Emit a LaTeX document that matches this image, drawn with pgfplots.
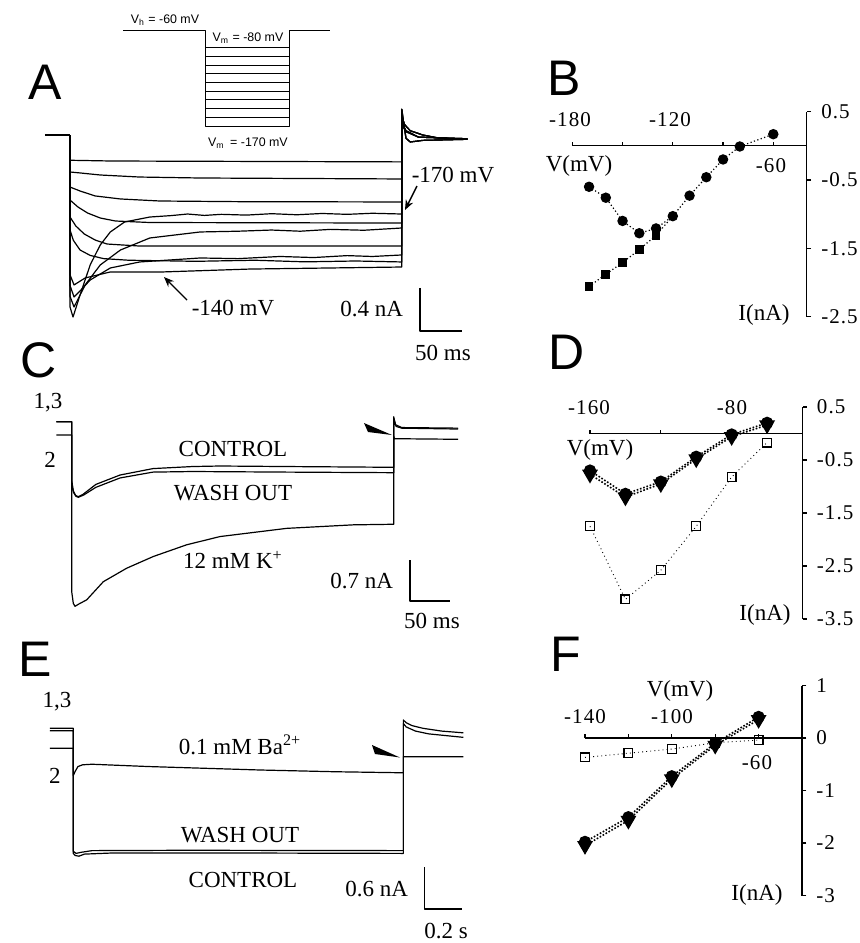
\documentclass[border=0pt]{standalone}
\usepackage{fontspec}
\setmainfont{Liberation Serif}
\newfontfamily\lsans{Liberation Sans}
\newfontfamily\wideserif[LetterSpace=5]{Liberation Serif}
\usepackage{pgfplots}
\pgfplotsset{compat=1.18}
\usetikzlibrary{arrows.meta}

\newcommand\lab{\fontsize{11.5}{13}\selectfont}
\newcommand\tk{\wideserif\fontsize{10.5}{12}\selectfont}
\newcommand\pl{\lsans\fontsize{25}{28}\selectfont}
\newcommand\pr{\lsans\fontsize{6.2}{7}\selectfont}

\pgfplotsset{
  trace/.style={hide axis, scale only axis, clip=false, anchor=north west},
  tr/.style={no marks, black, line width=0.6pt, line join=round},
  iv/.style={scale only axis, clip=false, anchor=north west,
    axis x line=middle, axis y line=right, axis line style={-, line width=0.6pt},
    xtick=\empty, ytick align=outside, major tick length=2.2pt,
    tick style={line width=0.6pt, black},
    yticklabel style={font=\tk, anchor=west, xshift=1.5pt}},
  dfill/.style={black, line width=0.8pt, dash pattern=on 0.8pt off 0.9pt},
  dopen/.style={black, line width=0.45pt, dash pattern=on 0.45pt off 1.6pt},
}

\begin{document}
\begin{tikzpicture}
\fill[white] (0,0) rectangle (430pt,-471.5pt);
\path[use as bounding box] (0,0) rectangle (430pt,-471.5pt);

% ---------- A: pulse protocol
\begin{axis}[trace, at={(61pt,-12.975pt)}, width=105pt, height=52.2pt,
  xmin=-400, xmax=600, ymin=-175, ymax=-55]
\addplot[tr, line width=0.5pt] coordinates {(-393,-60) (0,-60) (0,-170) (400,-170) (400,-60) (590,-60)};
\addplot[tr, line width=0.5pt] coordinates {(0,-80) (400,-80)};
\addplot[tr, line width=0.5pt] coordinates {(0,-90) (400,-90)};
\addplot[tr, line width=0.5pt] coordinates {(0,-100) (400,-100)};
\addplot[tr, line width=0.5pt] coordinates {(0,-110) (400,-110)};
\addplot[tr, line width=0.5pt] coordinates {(0,-120) (400,-120)};
\addplot[tr, line width=0.5pt] coordinates {(0,-130) (400,-130)};
\addplot[tr, line width=0.5pt] coordinates {(0,-140) (400,-140)};
\addplot[tr, line width=0.5pt] coordinates {(0,-150) (400,-150)};
\addplot[tr, line width=0.5pt] coordinates {(0,-160) (400,-160)};
\end{axis}

% ---------- A: current traces (ms, nA)
\begin{axis}[trace, at={(18.2pt,-46pt)}, width=218.4pt, height=129pt,
  xmin=-40, xmax=480, ymin=-2.0, ymax=0.4]
\addplot[tr] coordinates {(-30,0) (0,0)};
% -80
\addplot[tr] coordinates {(0,0) (0,-0.235) (50,-0.242) (395,-0.25) (395,0.10) (400,0.03) (415,-0.02) (473,-0.035)};
% -90
\addplot[tr] coordinates {(0,0) (0,-0.344) (12,-0.353) (36,-0.372) (83,-0.391) (155,-0.40) (395,-0.409) (395,0.10) (400,0.03) (415,-0.02) (473,-0.035)};
% -100
\addplot[tr] coordinates {(0,0) (0,-0.484) (12,-0.521) (30,-0.567) (60,-0.595) (107,-0.614) (200,-0.62) (395,-0.623) (395,0.12) (400,0.04) (415,-0.02) (473,-0.035)};
% -110
\addplot[tr] coordinates {(0,0) (0,-0.605) (9.5,-0.67) (21,-0.726) (36,-0.772) (54,-0.80) (95,-0.814) (395,-0.819) (395,0.12) (400,0.04) (415,-0.02) (473,-0.035)};
% -120
\addplot[tr] coordinates {(0,0) (0,-0.763) (7,-0.847) (17,-0.921) (30,-0.977) (44,-1.014) (83,-1.033) (395,-1.033) (395,0.18) (398,0.1) (405,0.04) (420,0.0) (440,-0.03) (473,-0.04)};
% -130
\addplot[tr] coordinates {(0,0) (0,-0.884) (4,-0.98) (12,-1.07) (24,-1.12) (40,-1.15) (70,-1.165) (150,-1.175) (220,-1.165) (280,-1.18) (340,-1.172) (395,-1.181) (395,0.18) (398,0.1) (405,0.04) (420,0.0) (440,-0.03) (473,-0.04)};
% -140
\addplot[tr] coordinates {(0,0) (0,-1.30) (4.8,-1.395) (18,-1.33) (48,-1.274) (110,-1.274) (214,-1.247) (395,-1.228) (395,0.18) (398,0.1) (405,0.04) (420,0.0) (440,-0.03) (473,-0.04)};
% -150
\addplot[tr] coordinates {(0,0) (0,-1.40) (4.8,-1.507) (12,-1.45) (24,-1.349) (48,-1.237) (83,-1.181) (155,-1.144) (200,-1.15) (250,-1.13) (290,-1.14) (330,-1.122) (360,-1.13) (395,-1.116) (395,0.24) (397,0.12) (400,-0.03) (405,-0.065) (420,-0.05) (473,-0.04)};
% -160
\addplot[tr] coordinates {(0,0) (0,-1.50) (4.8,-1.60) (18,-1.395) (36,-1.209) (60,-1.07) (95,-0.958) (155,-0.902) (200,-0.895) (240,-0.884) (274,-0.895) (310,-0.878) (350,-0.886) (395,-0.865) (395,0.24) (397,0.12) (400,-0.03) (405,-0.065) (420,-0.05) (473,-0.04)};
% -170
\addplot[tr] coordinates {(0,0) (0,-1.60) (3.6,-1.693) (12,-1.488) (24,-1.209) (36,-1.023) (48,-0.902) (65,-0.809) (95,-0.763) (120,-0.75) (140,-0.735) (160,-0.748) (180,-0.738) (210,-0.745) (240,-0.732) (270,-0.742) (300,-0.73) (330,-0.738) (360,-0.728) (395,-0.735) (395,0.24) (397,0.12) (400,-0.03) (405,-0.065) (420,-0.05) (473,-0.04)};
% scale bar 0.4 nA, 50 ms
\addplot[tr] coordinates {(416.7,-1.423) (416.7,-1.823) (466.7,-1.823)};
\end{axis}

% ---------- C: traces (ms, nA)
\begin{axis}[trace, at={(25.79pt,-202.06pt)}, width=207.29pt, height=111.34pt,
  xmin=-25, xmax=490, ymin=-3.5, ymax=0.3]
% 1 control
\addplot[tr] coordinates {(-19,0) (0,0) (0,-1.0) (2,-1.18) (5,-1.26) (8.2,-1.28) (14,-1.24) (30,-1.07) (60,-0.91) (101,-0.80) (150,-0.765) (184,-0.756) (267,-0.765) (400,-0.778) (400,0.085) (402,-0.05) (410,-0.1) (480,-0.11)};
% 3 wash out
\addplot[tr] coordinates {(-19,0) (0,0) (0,-1.05) (2,-1.2) (5,-1.27) (8.2,-1.29) (15,-1.25) (30,-1.12) (60,-0.96) (101,-0.86) (150,-0.85) (267,-0.86) (400,-0.87) (400,0.06) (403,-0.08) (410,-0.11) (480,-0.125)};
% 2 12 mM K+
\addplot[tr] coordinates {(-19,-0.227) (0,-0.227) (0,-2.9) (2,-3.10) (4.1,-3.15) (9,-3.11) (18.6,-3.04) (39.3,-2.73) (68.3,-2.50) (101.4,-2.30) (142.9,-2.10) (184.2,-1.96) (267,-1.82) (349.8,-1.76) (400,-1.75) (400,-0.25) (401,-0.29) (480,-0.30)};
% scale bar 0.7 nA, 50 ms
\addplot[tr] coordinates {(420.2,-2.36) (420.2,-3.06) (470.2,-3.06)};
\end{axis}

% ---------- E: traces (s, nA)
\begin{axis}[trace, at={(22.625pt,-353.725pt)}, width=215.05pt, height=107.725pt,
  xmin=-0.15, xmax=2.15, ymin=-2.8, ymax=0.3]
% 1 control
\addplot[tr] coordinates {(-0.125,0) (0,0) (0,-1.80) (0.01,-1.83) (0.03,-1.84) (0.06,-1.81) (0.2,-1.795) (1.0,-1.795) (1.765,-1.80) (1.765,0.12) (1.78,0.08) (1.81,0.04) (1.87,0.0) (1.97,-0.04) (2.086,-0.065)};
% 3 wash out
\addplot[tr] coordinates {(-0.125,-0.035) (0,-0.035) (0,-1.77) (0.015,-1.80) (0.04,-1.785) (0.1,-1.76) (0.6,-1.755) (1.765,-1.76) (1.765,0.07) (1.78,0.02) (1.83,-0.04) (1.9,-0.08) (2.086,-0.13)};
% 2 0.1 mM Ba2+
\addplot[tr] coordinates {(-0.125,-0.288) (0,-0.288) (0,-0.68) (0.01,-0.62) (0.025,-0.55) (0.05,-0.525) (0.1,-0.517) (0.4,-0.55) (1.0,-0.6) (1.4,-0.625) (1.765,-0.64) (1.765,-0.409) (2.086,-0.409)};
% scale bar 0.6 nA, 0.2 s
\addplot[tr] coordinates {(1.877,-2.0) (1.877,-2.6) (2.077,-2.6)};
\end{axis}

% ---------- B: I-V
\begin{axis}[iv, at={(286.15pt,-55.825pt)}, width=117.25pt, height=102.45pt,
  xmin=-180, xmax=-40, ymin=-2.5, ymax=0.5,
  ytick={0.5,-0.5,-1.5,-2.5}, yticklabels={0.5,-0.5,-1.5,-2.5}]
\addplot[black, line width=0.6pt, dash pattern=on 0.6pt off 1.2pt, mark=square*, mark size=1.9pt, mark options={solid}, mark indices={1,2,3,4,5}]
  coordinates {(-170,-2.06) (-160,-1.88) (-150,-1.71) (-140,-1.52) (-130,-1.31) (-120,-1.03)};
\addplot[black, line width=0.6pt, dash pattern=on 0.6pt off 1.2pt, mark=*, mark size=2.3pt, mark options={solid}]
  coordinates {(-170,-0.60) (-160,-0.76) (-150,-1.10) (-140,-1.28) (-130,-1.21) (-120,-1.03) (-110,-0.73) (-100,-0.46) (-90,-0.20) (-80,-0.01) (-60,0.17)};
\draw[line width=0.6pt] (axis cs:-180,0) -- ([yshift=2pt]axis cs:-180,0);
\draw[line width=0.6pt] (axis cs:-150,0) -- ([yshift=2pt]axis cs:-150,0);
\draw[line width=0.6pt] (axis cs:-120,0) -- ([yshift=2pt]axis cs:-120,0);
\draw[line width=0.6pt] (axis cs:-90,0) -- ([yshift=2pt]axis cs:-90,0);
\draw[line width=0.6pt] (axis cs:-60,0) -- ([yshift=2pt]axis cs:-60,0);
\end{axis}

% ---------- D: I-V
\begin{axis}[iv, at={(295pt,-203.5pt)}, width=106.25pt, height=106pt,
  xmin=-160, xmax=-40, ymin=-3.5, ymax=0.5,
  ytick={0.5,-0.5,-1.5,-2.5,-3.5}, yticklabels={0.5,-0.5,-1.5,-2.5,-3.5}]
\addplot[dopen, mark=square, mark size=2.2pt, mark options={solid, fill=white, line width=0.6pt}]
  coordinates {(-160,-1.75) (-140,-3.13) (-120,-2.58) (-100,-1.75) (-80,-0.82) (-60,-0.17)};
\addplot[dfill, mark=*, mark size=2.7pt, mark options={solid}]
  coordinates {(-160,-0.70) (-140,-1.14) (-120,-0.91) (-100,-0.44) (-80,-0.02) (-60,0.20)};
\addplot[dfill, mark=triangle*, mark size=3.8pt, mark options={solid, rotate=180}]
  coordinates {(-160,-0.77) (-140,-1.20) (-120,-0.95) (-100,-0.48) (-80,-0.06) (-60,0.16)};
\draw[line width=0.6pt] (axis cs:-160,0) -- ([yshift=2pt]axis cs:-160,0);
\draw[line width=0.6pt] (axis cs:-120,0) -- ([yshift=2pt]axis cs:-120,0);
\draw[line width=0.6pt] (axis cs:-80,0) -- ([yshift=2pt]axis cs:-80,0);
\end{axis}

% ---------- F: I-V
\begin{axis}[iv, at={(292.5pt,-342.75pt)}, width=108.5pt, height=105pt,
  xmin=-140, xmax=-40, ymin=-3, ymax=1,
  ytick={1,0,-1,-2,-3}, yticklabels={1,0,-1,-2,-3}]
\addplot[dopen, mark=square, mark size=2.2pt, mark options={solid, fill=white, line width=0.6pt}]
  coordinates {(-140,-0.37) (-120,-0.29) (-100,-0.21) (-80,-0.09) (-60,-0.04)};
\addplot[dfill, mark=*, mark size=2.7pt, mark options={solid}]
  coordinates {(-140,-1.98) (-120,-1.51) (-100,-0.73) (-80,-0.10) (-60,0.40)};
\addplot[dfill, mark=triangle*, mark size=3.8pt, mark options={solid, rotate=180}]
  coordinates {(-140,-2.05) (-120,-1.57) (-100,-0.78) (-80,-0.14) (-60,0.35)};
\draw[line width=0.6pt] (axis cs:-140,0) -- ([yshift=2pt]axis cs:-140,0);
\draw[line width=0.6pt] (axis cs:-120,0) -- ([yshift=2pt]axis cs:-120,0);
\draw[line width=0.6pt] (axis cs:-100,0) -- ([yshift=2pt]axis cs:-100,0);
\draw[line width=0.6pt] (axis cs:-80,0) -- ([yshift=2pt]axis cs:-80,0);
\draw[line width=0.6pt] (axis cs:-60,0) -- ([yshift=2pt]axis cs:-60,0);
\end{axis}

% ---------- text, in pixel units of the reference
\begin{scope}[x=0.5pt, y=-0.5pt]
% panel letters
\node[font=\pl, anchor=base west, inner sep=0] at (28,99) {A};
\node[font=\pl, anchor=base west, inner sep=0] at (547,95) {B};
\node[font=\pl, anchor=base west, inner sep=0] at (20,377) {C};
\node[font=\pl, anchor=base west, inner sep=0] at (548,369) {D};
\node[font=\pl, anchor=base west, inner sep=0] at (18,676) {E};
\node[font=\pl, anchor=base west, inner sep=0] at (550,671) {F};
% protocol
\node[font=\pr] at (165,20) {V\textsubscript{h} = -60 mV};
\node[font=\pr] at (248,38) {V\textsubscript{m} = -80 mV};
\node[font=\pr] at (248,143) {V\textsubscript{m} \,= -170 mV};
% A
\node[font=\lab] at (453,175) {-170 mV};
\draw[-{Stealth[length=5pt,width=4pt]}, line width=0.7pt] (417,186) -- (405,210);
\node[font=\lab] at (233,308) {-140 mV};
\draw[-{Stealth[length=5pt,width=4pt]}, line width=0.7pt] (187,300) -- (164,277);
\node[font=\lab, anchor=east] at (410,309) {0.4 nA};
\node[font=\lab] at (443,353) {50 ms};
% C
\node[font=\lab] at (48,403) {1,3};
\node[font=\lab] at (50,460) {2};
\node[font=\lab] at (233,449) {CONTROL};
\node[font=\lab] at (233,493) {WASH OUT};
\node[font=\lab] at (233,560) {12 mM K\textsuperscript{+}};
\node[font=\lab, anchor=east] at (400,581) {0.7 nA};
\node[font=\lab] at (432,621) {50 ms};
\fill (364,423) -- (392,435) -- (368,432) -- cycle;
% E
\node[font=\lab] at (57,702) {1,3};
\node[font=\lab] at (55,776) {2};
\node[font=\lab] at (240,745) {0.1 mM Ba\textsuperscript{2+}};
\node[font=\lab] at (240,835) {WASH OUT};
\node[font=\lab] at (243,880) {CONTROL};
\node[font=\lab, anchor=east] at (415,889) {0.6 nA};
\node[font=\lab] at (446,931) {0.2 s};
\fill (372,745) -- (400,757.5) -- (375,754) -- cycle;
% B
\node[font=\tk] at (570,120) {-180};
\node[font=\tk] at (670,120) {-120};
\node[font=\tk] at (771,166) {-60};
\node[font=\lab] at (579,166) {V(mV)};
\node[font=\lab] at (764,315) {I(nA)};
% D
\node[font=\tk] at (589,408) {-160};
\node[font=\tk] at (732,408) {-80};
\node[font=\lab] at (600,450) {V(mV)};
\node[font=\lab] at (765,615) {I(nA)};
% F
\node[font=\tk] at (585,717) {-140};
\node[font=\tk] at (672,717) {-100};
\node[font=\tk] at (757,763) {-60};
\node[font=\lab] at (680,691) {V(mV)};
\node[font=\lab] at (757,895) {I(nA)};
\end{scope}
\end{tikzpicture}
\end{document}
